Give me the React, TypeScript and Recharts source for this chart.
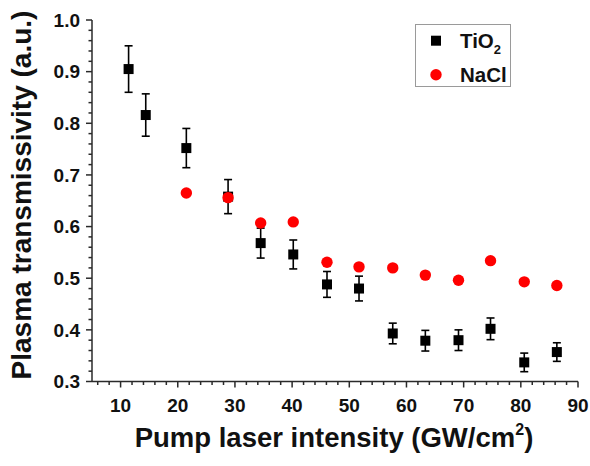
import React from 'react';
import { ScatterChart, Scatter, XAxis, YAxis, ErrorBar, Legend, Label } from 'recharts';

const intensityTiO2 = [11.4, 14.4, 21.5, 28.8, 34.5, 40.2, 46.1, 51.7, 57.6, 63.3, 69.1, 74.7, 80.6, 86.3];
const transTiO2 = [0.905, 0.816, 0.752, 0.658, 0.568, 0.546, 0.488, 0.480, 0.393, 0.379, 0.380, 0.402, 0.337, 0.357];
const errTiO2 = [0.045, 0.041, 0.038, 0.033, 0.029, 0.028, 0.025, 0.024, 0.020, 0.020, 0.020, 0.021, 0.018, 0.018];

const intensityNaCl = [21.5, 28.8, 34.5, 40.2, 46.1, 51.7, 57.6, 63.3, 69.1, 74.7, 80.6, 86.3];
const transNaCl = [0.665, 0.656, 0.607, 0.609, 0.531, 0.522, 0.520, 0.506, 0.496, 0.534, 0.493, 0.486];

const seriesNames = ['TiO2', 'NaCl'];
const seriesColors = ['#000000', '#ff0000'];

const xMajorTicks = [10, 20, 30, 40, 50, 60, 70, 80, 90];
const xAllTicks = [6, 8, 10, 12, 14, 16, 18, 20, 22, 24, 26, 28, 30, 32, 34, 36, 38, 40, 42, 44, 46, 48, 50, 52, 54, 56, 58, 60, 62, 64, 66, 68, 70, 72, 74, 76, 78, 80, 82, 84, 86, 88, 90];
const yMajorTicks = [0.3, 0.4, 0.5, 0.6, 0.7, 0.8, 0.9, 1.0];
const yAllTicks = [0.3, 0.32, 0.34, 0.36, 0.38, 0.4, 0.42, 0.44, 0.46, 0.48, 0.5, 0.52, 0.54, 0.56, 0.58, 0.6, 0.62, 0.64, 0.66, 0.68, 0.7, 0.72, 0.74, 0.76, 0.78, 0.8, 0.82, 0.84, 0.86, 0.88, 0.9, 0.92, 0.94, 0.96, 0.98, 1.0];

const xTitle = 'Pump laser intensity (GW/cm';
const yTitle = 'Plasma transmissivity (a.u.)';

const tio2Data = intensityTiO2.map((x, i) => ({ x, y: transTiO2[i], err: errTiO2[i] }));
const naclData = intensityNaCl.map((x, i) => ({ x, y: transNaCl[i] }));

const FONT = '"Liberation Sans", Arial, Helvetica, sans-serif';
const AXIS_COLOR = '#2a2a2a';

const isMajor = (v: number, majors: number[]) => majors.some((m) => Math.abs(m - v) < 1e-6);

const XTick = (props: any) => {
  const { x, y, payload } = props;
  const major = isMajor(payload.value, xMajorTicks);
  return (
    <g>
      <line x1={x} x2={x} y1={y} y2={y + (major ? 6 : 3.5)} stroke={AXIS_COLOR} strokeWidth={1.5} />
      {major && (
        <text x={x} y={y + 30} textAnchor="middle" fontSize={19} fontWeight="bold" fontFamily={FONT} fill="#111">
          {payload.value}
        </text>
      )}
    </g>
  );
};

const YTick = (props: any) => {
  const { x, y, payload } = props;
  const major = isMajor(payload.value, yMajorTicks);
  return (
    <g>
      <line x1={x} x2={x - (major ? 6 : 3.5)} y1={y} y2={y} stroke={AXIS_COLOR} strokeWidth={1.5} />
      {major && (
        <text x={x - 12} y={y + 6.8} textAnchor="end" fontSize={19} fontWeight="bold" fontFamily={FONT} fill="#111">
          {Number(payload.value).toFixed(1)}
        </text>
      )}
    </g>
  );
};

const SquareShape = (props: any) => {
  const { cx, cy } = props;
  return <rect x={cx - 5} y={cy - 5} width={10} height={10} fill={seriesColors[0]} />;
};

const CircleShape = (props: any) => {
  const { cx, cy } = props;
  return <circle cx={cx} cy={cy} r={5.7} fill={seriesColors[1]} />;
};

const renderLegend = () => {
  return (
    <svg width={96} height={63} style={{ display: 'block' }}>
      <rect x={0.5} y={0.5} width={95} height={62} fill="#fff" stroke="#9a9a9a" strokeWidth={1} />
      {seriesNames.map((name, i) => {
        const cy = 16.7 + i * 34;
        return (
          <g key={name}>
            {i === 0 ? (
              <rect x={16} y={cy - 5} width={10} height={10} fill={seriesColors[0]} />
            ) : (
              <circle cx={21} cy={cy} r={5.7} fill={seriesColors[1]} />
            )}
            <text x={45} y={cy + 7.5} fontSize={20.5} fontWeight="bold" fontFamily={FONT} fill="#111">
              {name === 'TiO2' ? (
                <>
                  TiO
                  <tspan fontSize={13} dy={6}>2</tspan>
                </>
              ) : (
                name
              )}
            </text>
          </g>
        );
      })}
    </svg>
  );
};

const XTitle = () => (
  <text x={334} y={447} textAnchor="middle" fontSize={27.5} fontWeight="bold" fontFamily={FONT} fill="#111">
    {xTitle}
    <tspan fontSize={16} dy={-12}>2</tspan>
    <tspan dy={12}>)</tspan>
  </text>
);

const YTitle = () => (
  <text
    x={31}
    y={195}
    transform="rotate(-90, 31, 195)"
    textAnchor="middle"
    fontSize={28}
    fontWeight="bold"
    fontFamily={FONT}
    fill="#111"
  >
    {yTitle}
  </text>
);

export default function App() {
  return (
    <div style={{ position: 'absolute', left: 0, top: 0, width: 590, height: 466, background: '#fff' }}>
      <ScatterChart width={590} height={466} margin={{ top: 20, right: 12, left: 0, bottom: 0 }}>
        <XAxis
          type="number"
          dataKey="x"
          domain={[5, 90]}
          ticks={xAllTicks}
          interval={0}
          allowDataOverflow
          height={84.5}
          tickSize={0}
          tickMargin={0}
          tickLine={false}
          axisLine={{ stroke: AXIS_COLOR, strokeWidth: 1.5 }}
          tick={<XTick />}
        >
          <Label content={<XTitle />} />
        </XAxis>
        <YAxis
          type="number"
          dataKey="y"
          domain={[0.3, 1.0]}
          ticks={yAllTicks}
          interval={0}
          allowDataOverflow
          width={92}
          tickSize={0}
          tickMargin={0}
          tickLine={false}
          axisLine={{ stroke: AXIS_COLOR, strokeWidth: 1.5 }}
          tick={<YTick />}
        >
          <Label content={<YTitle />} />
        </YAxis>
        <Legend
          layout="vertical"
          align="center"
          verticalAlign="middle"
          content={renderLegend}
          wrapperStyle={{ left: 415, top: 24, width: 96, height: 63 }}
        />
        <Scatter name={seriesNames[0]} data={tio2Data} fill={seriesColors[0]} shape={<SquareShape />} isAnimationActive={false}>
          <ErrorBar dataKey="err" direction="y" width={4} stroke="#000" strokeWidth={1.6} isAnimationActive={false} />
        </Scatter>
        <Scatter name={seriesNames[1]} data={naclData} fill={seriesColors[1]} shape={<CircleShape />} isAnimationActive={false} />
      </ScatterChart>
    </div>
  );
}
